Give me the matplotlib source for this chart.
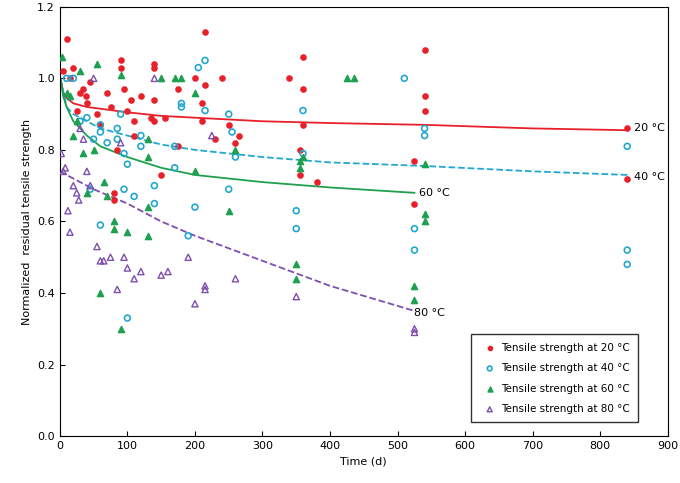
import matplotlib.pyplot as plt

# Scatter data (time in days, normalized residual tensile strength)
t20 = [5, 10, 15, 20, 25, 30, 35, 38, 40, 45, 55, 60, 70, 75, 80, 80, 85, 90, 90, 95, 100, 105, 110, 110, 120, 140, 140, 140,
       135, 140, 150, 155, 175, 175, 200, 210, 210, 215, 215, 230, 240, 250, 260, 265, 340, 355, 355, 360, 360, 360, 380,
       525, 525, 540, 540, 540, 840, 840]
v20 = [1.02, 1.11, 1.0, 1.03, 0.91, 0.96, 0.97, 0.95, 0.93, 0.99, 0.90, 0.87, 0.96, 0.92, 0.66, 0.68, 0.80, 1.05, 1.03, 0.97,
       0.91, 0.94, 0.84, 0.88, 0.95, 0.94, 1.04, 1.03, 0.89, 0.88, 0.73, 0.89, 0.97, 0.81, 1.0, 0.93, 0.88, 1.13, 0.98, 0.83,
       1.0, 0.87, 0.82, 0.84, 1.0, 0.80, 0.73, 1.06, 0.97, 0.87, 0.71, 0.77, 0.65, 1.08, 0.95, 0.91, 0.72, 0.86]

t40 = [10, 20, 30, 40, 45, 50, 60, 60, 60, 70, 85, 85, 90, 95, 95, 100, 100, 110, 120, 120, 140, 140, 170, 170, 180, 180,
       190, 200, 205, 215, 215, 250, 250, 255, 260, 360, 360, 350, 350, 510, 525, 525, 540, 540, 840, 840, 840]
v40 = [1.0, 1.0, 0.88, 0.89, 0.69, 0.83, 0.87, 0.85, 0.59, 0.82, 0.86, 0.83, 0.90, 0.69, 0.79, 0.76, 0.33, 0.67, 0.84, 0.81,
       0.70, 0.65, 0.81, 0.75, 0.92, 0.93, 0.56, 0.64, 1.03, 1.05, 0.91, 0.69, 0.90, 0.85, 0.78, 0.91, 0.79, 0.63, 0.58, 1.0,
       0.58, 0.52, 0.86, 0.84, 0.81, 0.52, 0.48]

t60 = [3, 10, 15, 20, 25, 30, 35, 40, 50, 55, 60, 65, 70, 80, 80, 90, 90, 100, 130, 130, 130, 130, 150, 170, 180, 200, 200,
       260, 250, 355, 355, 360, 350, 350, 425, 435, 525, 525, 540, 540, 540]
v60 = [1.06, 0.96, 0.95, 0.84, 0.88, 1.02, 0.79, 0.68, 0.80, 1.04, 0.40, 0.71, 0.67, 0.60, 0.58, 1.01, 0.30, 0.57, 0.83, 0.78,
       0.64, 0.56, 1.0, 1.0, 1.0, 0.96, 0.74, 0.80, 0.63, 0.77, 0.75, 0.78, 0.48, 0.44, 1.0, 1.0, 0.38, 0.42, 0.62, 0.60, 0.76]

t80 = [2, 5, 8, 12, 15, 20, 25, 28, 30, 35, 40, 45, 55, 60, 65, 75, 85, 90, 95, 100, 110, 120, 150, 160, 190, 200, 215, 215,
       225, 260, 350, 525, 525, 50, 140]
v80 = [0.79, 0.74, 0.75, 0.63, 0.57, 0.70, 0.68, 0.66, 0.86, 0.83, 0.74, 0.70, 0.53, 0.49, 0.49, 0.50, 0.41, 0.82, 0.50, 0.47,
       0.44, 0.46, 0.45, 0.46, 0.50, 0.37, 0.42, 0.41, 0.84, 0.44, 0.39, 0.29, 0.30, 1.0, 1.0]

# Trend curves
c20_t = [1, 5, 10, 20, 40, 60, 100, 150, 200, 300, 400, 540, 700, 840]
c20_v = [1.0, 0.96, 0.945, 0.93, 0.92, 0.915, 0.905, 0.895, 0.89, 0.88, 0.875, 0.87, 0.86, 0.855]
c40_t = [1, 10, 20, 40, 60, 100, 150, 200, 300, 400, 540, 700, 840]
c40_v = [1.0, 0.92, 0.9, 0.88, 0.86, 0.84, 0.815, 0.8, 0.78, 0.765, 0.755, 0.74, 0.73]
c60_t = [1, 5, 10, 20, 40, 60, 100, 150, 200, 300, 400, 525]
c60_v = [1.0, 0.95, 0.92, 0.88, 0.84, 0.81, 0.78, 0.75, 0.73, 0.71, 0.695, 0.68]
c80_t = [0, 20, 50, 100, 150, 200, 300, 400, 525]
c80_v = [0.74, 0.72, 0.69, 0.65, 0.60, 0.56, 0.49, 0.42, 0.35]

red, cyan, green, purple = "#e8202a", "#22a8d0", "#1fa050", "#7e4fae"

fig = plt.figure(figsize=(6.8, 4.83), dpi=100)
ax = fig.add_axes([0.088, 0.097, 0.894, 0.889])

ax.scatter(t20, v20, s=14, color=red, label="Tensile strength at 20 °C", zorder=3)
ax.scatter(t40, v40, s=18, facecolors="none", edgecolors=cyan, linewidths=1.2, label="Tensile strength at 40 °C", zorder=3)
ax.scatter(t60, v60, s=20, marker="^", color=green, label="Tensile strength at 60 °C", zorder=3)
ax.scatter(t80, v80, s=20, marker="^", facecolors="none", edgecolors=purple, linewidths=1, label="Tensile strength at 80 °C", zorder=3)

ax.plot(c20_t, c20_v, color=red, lw=1.3)
ax.plot(c40_t, c40_v, color=cyan, lw=1.3, ls="--")
ax.plot(c60_t, c60_v, color=green, lw=1.3)
ax.plot(c80_t, c80_v, color=purple, lw=1.3, ls="--")

ax.text(850, 0.86, "20 °C", fontsize=8, va="center")
ax.text(850, 0.725, "40 °C", fontsize=8, va="center")
ax.text(532, 0.68, "60 °C", fontsize=8, va="center")
ax.text(525, 0.345, "80 °C", fontsize=8, va="center")

ax.set_xlim(0, 900)
ax.set_ylim(0, 1.2)
ax.set_xticks(range(0, 901, 100))
ax.set_yticks([0, 0.2, 0.4, 0.6, 0.8, 1.0, 1.2])
ax.yaxis.set_major_formatter(plt.FormatStrFormatter("%.1f"))
ax.tick_params(labelsize=8, direction="in")
ax.set_xlabel("Time (d)", fontsize=8)
ax.set_ylabel("Normalized  residual tensile strength", fontsize=8)

leg = ax.legend(loc="lower right", fontsize=7.5, handletextpad=0.1, borderpad=0.8, labelspacing=1.0,
                fancybox=False, edgecolor="black", markerscale=0.8, bbox_to_anchor=(0.96, 0.02))
leg.get_frame().set_linewidth(1)

fig.savefig("out.png")
